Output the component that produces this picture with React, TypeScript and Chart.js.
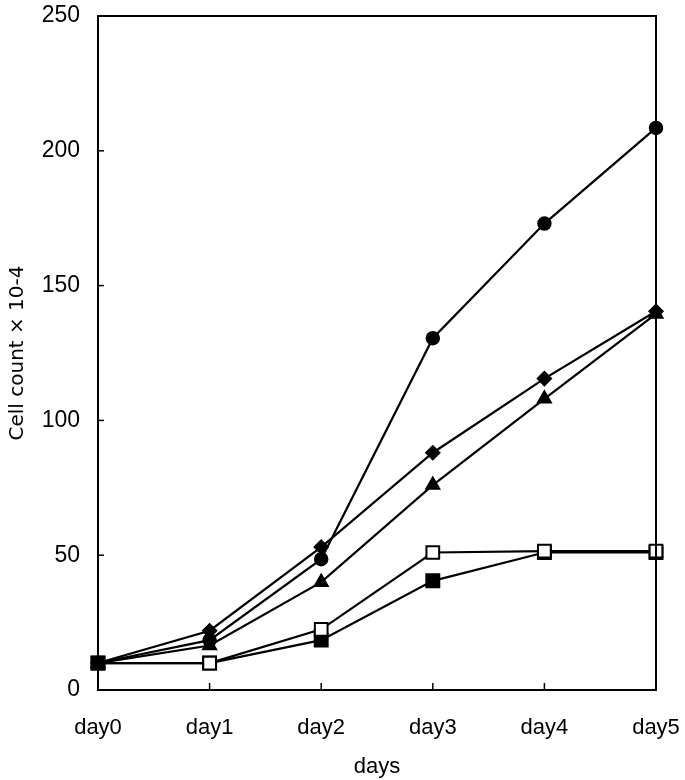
import React, { useEffect, useRef } from "react";
import { Chart, registerables } from "chart.js";

Chart.register(...registerables);

const categories = ["day0", "day1", "day2", "day3", "day4", "day5"];
const circleSeries = [10, 18.5, 48.5, 130.5, 173, 208.5];
const diamondSeries = [10, 22, 53, 88, 115.5, 140.5];
const triangleSeries = [10, 16.5, 40, 76, 108, 139.5];
const filledSquareSeries = [10, 10, 18.5, 40.5, 51, 51];
const openSquareSeries = [10, 10, 22.5, 51, 51.5, 51.5];
const yMin = 0;
const yMax = 250;
const yStep = 50;

const FONT = "'Liberation Sans', Arial, sans-serif";
const TITLE_FONT = "'DejaVu Sans', sans-serif";

const boxPlugin = {
  id: "boxAndTicks",
  afterDraw(chart: any) {
    const { ctx, chartArea } = chart;
    const { left, right, top, bottom } = chartArea;
    ctx.save();
    ctx.strokeStyle = "#000";
    ctx.lineWidth = 2;
    ctx.strokeRect(left, top, right - left, bottom - top);
    ctx.lineWidth = 1.5;
    const ys = chart.scales.y;
    ys.ticks.forEach((t: any) => {
      const py = ys.getPixelForValue(t.value);
      if (t.value === yMin || t.value === yMax) return;
      ctx.beginPath();
      ctx.moveTo(left, py);
      ctx.lineTo(left + 6, py);
      ctx.stroke();
    });
    const xs = chart.scales.x;
    categories.forEach((c, i) => {
      if (i === 0 || i === categories.length - 1) return;
      const px = xs.getPixelForValue(i);
      ctx.beginPath();
      ctx.moveTo(px, bottom);
      ctx.lineTo(px, bottom - 7);
      ctx.stroke();
    });
    ctx.restore();
  },
};

function noPad(scale: any) {
  scale.paddingTop = 0;
  scale.paddingBottom = 0;
  scale.paddingLeft = 0;
  scale.paddingRight = 0;
}

export default function App() {
  const ref = useRef<HTMLCanvasElement | null>(null);
  useEffect(() => {
    if (!ref.current) return;
    const common = {
      borderColor: "#000",
      borderWidth: 2.2,
      pointBorderColor: "#000",
      pointBorderWidth: 1.5,
      tension: 0,
      fill: false,
    };
    const chart = new Chart(ref.current, {
      type: "line",
      data: {
        labels: categories,
        datasets: [
          {
            ...common,
            label: "circle",
            data: circleSeries,
            pointStyle: "circle",
            pointRadius: 6.5,
            pointBackgroundColor: "#000",
          },
          {
            ...common,
            label: "diamond",
            data: diamondSeries,
            pointStyle: "rectRot",
            pointRadius: 7,
            pointBackgroundColor: "#000",
          },
          {
            ...common,
            label: "triangle",
            data: triangleSeries,
            pointStyle: "triangle",
            pointRadius: 8,
            pointBackgroundColor: "#000",
          },
          {
            ...common,
            label: "open square",
            data: openSquareSeries,
            pointStyle: "rect",
            pointRadius: 9,
            pointBorderWidth: 2,
            pointBackgroundColor: ["#000", "#fff", "#fff", "#fff", "#fff", "#fff"],
          },
          {
            ...common,
            label: "filled square",
            data: filledSquareSeries,
            pointStyle: "rect",
            pointRadius: 9.5,
            pointBackgroundColor: "#000",
          },
        ],
      },
      options: {
        animation: false,
        responsive: false,
        maintainAspectRatio: false,
        layout: { padding: { left: 0, top: 16, right: 29, bottom: 0 } },
        plugins: {
          legend: { display: false },
          tooltip: { enabled: false },
        },
        scales: {
          x: {
            type: "category",
            offset: false,
            grid: { display: false, drawTicks: false },
            border: { display: false },
            ticks: {
              color: "#000",
              font: { family: FONT, size: 22 },
              padding: 25,
              maxRotation: 0,
            },
            title: {
              display: true,
              text: "days",
              color: "#000",
              font: { family: FONT, size: 22 },
              padding: { top: 0, bottom: 0 },
            },
            afterFit(scale: any) {
              scale.height = 90;
              noPad(scale);
            },
          },
          y: {
            min: yMin,
            max: yMax,
            grid: { display: false, drawTicks: false },
            border: { display: false },
            ticks: {
              stepSize: yStep,
              color: "#000",
              font: { family: FONT, size: 23 },
              padding: 18,
            },
            title: {
              display: true,
              text: "Cell count × 10-4",
              color: "#000",
              font: { family: TITLE_FONT, size: 20 },
              padding: { top: 6, bottom: 0 },
            },
            afterFit(scale: any) {
              scale.width = 98;
              noPad(scale);
            },
          },
        },
      },
      plugins: [boxPlugin],
    } as any);
    return () => chart.destroy();
  }, []);
  return (
    <div style={{ position: "absolute", left: 0, top: 0, width: 685, height: 780, background: "#fff" }}>
      <canvas ref={ref} width={685} height={780} style={{ width: 685, height: 780 }} />
    </div>
  );
}
